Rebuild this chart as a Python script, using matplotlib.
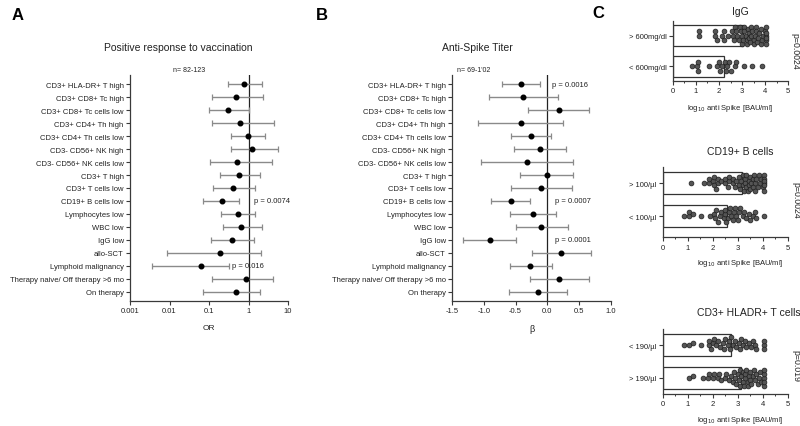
import numpy as np
import matplotlib
matplotlib.use('Agg')
import matplotlib.pyplot as plt

plt.rcParams['font.family'] = ['Liberation Sans', 'DejaVu Sans']

# ---------------- data ----------------
rows = ["CD3+ HLA-DR+ T high", "CD3+ CD8+ Tc high", "CD3+ CD8+ Tc cells low",
        "CD3+ CD4+ Th high", "CD3+ CD4+ Th cells low", "CD3- CD56+ NK high",
        "CD3- CD56+ NK cells low", "CD3+ T high", "CD3+ T cells low",
        "CD19+ B cells low", "Lymphocytes low", "WBC low", "IgG low", "allo-SCT",
        "Lymphoid malignancy", "Therapy naive/ Off therapy >6 mo", "On therapy"]

or_est = [0.79, 0.47, 0.30, 0.61, 0.99, 1.26, 0.52, 0.57, 0.41, 0.215, 0.54, 0.66, 0.39, 0.185, 0.063, 0.86, 0.48]
or_lo = [0.30, 0.12, 0.10, 0.12, 0.37, 0.37, 0.104, 0.185, 0.128, 0.072, 0.20, 0.227, 0.114, 0.0085, 0.0036, 0.12, 0.072]
or_hi = [2.2, 2.3, 1.0, 4.5, 2.66, 5.7, 3.9, 2.0, 1.5, 0.585, 1.5, 2.2, 1.36, 2.08, 0.32, 4.2, 1.96]

beta_est = [-0.42, -0.38, 0.18, -0.42, -0.26, -0.12, -0.32, 0.0, -0.10, -0.58, -0.23, -0.10, -0.91, 0.22, -0.27, 0.19, -0.15]
beta_lo = [-0.72, -0.92, -0.30, -1.09, -0.57, -0.53, -1.05, -0.43, -0.57, -0.88, -0.59, -0.50, -1.33, -0.24, -0.59, -0.28, -0.60]
beta_hi = [-0.11, 0.17, 0.66, 0.25, 0.06, 0.29, 0.41, 0.41, 0.38, -0.27, 0.13, 0.32, -0.49, 0.68, 0.07, 0.66, 0.31]

or_ticks = [0.001, 0.01, 0.1, 1, 10]
or_ticklabels = ["0.001", "0.01", "0.1", "1", "10"]
beta_ticks = [-1.5, -1.0, -0.5, 0.0, 0.5, 1.0]
beta_ticklabels = ["-1.5", "-1.0", "-0.5", "0.0", "0.5", "1.0"]

pA_text = {9: "p = 0.0074", 14: "p = 0.016"}
pB_text = {0: "p = 0.0016", 9: "p = 0.0007", 12: "p = 0.0001"}

# Panel C groups (log10 anti-Spike values)
igg_hi = [1.15, 1.15, 1.85, 1.85, 1.9, 2.15, 2.2, 2.2, 2.4, 2.55, 2.6, 2.65, 2.7, 2.75, 2.8, 2.85,
          2.9, 2.95, 3.0, 3.0, 3.05, 3.1, 3.1, 3.15, 3.2, 3.2, 3.25, 3.3, 3.3, 3.35, 3.4, 3.4, 3.45,
          3.5, 3.5, 3.55, 3.6, 3.6, 3.65, 3.7, 3.75, 3.8, 3.8, 3.85, 3.9, 4.0, 4.05, 4.05, 4.05,
          4.05, 4.05, 4.05]
igg_lo = [0.85, 1.05, 1.1, 1.1, 1.55, 1.9, 2.0, 2.05, 2.15, 2.25, 2.3, 2.35, 2.45, 2.5, 2.7, 2.75,
          3.1, 3.45, 3.85]
b_hi = [1.15, 1.65, 1.85, 1.85, 2.0, 2.05, 2.05, 2.15, 2.2, 2.2, 2.35, 2.5, 2.5, 2.6, 2.65, 2.65,
        2.8, 2.8, 2.9, 2.95, 3.05, 3.05, 3.1, 3.15, 3.2, 3.2, 3.25, 3.3, 3.3, 3.35, 3.35, 3.4, 3.45,
        3.45, 3.5, 3.5, 3.55, 3.6, 3.6, 3.65, 3.7, 3.7, 3.75, 3.8, 3.85, 3.9, 3.95, 4.0, 4.05, 4.05,
        4.05, 4.05, 4.05, 4.05]
b_lo = [0.85, 1.05, 1.05, 1.2, 1.55, 1.9, 2.05, 2.1, 2.15, 2.2, 2.3, 2.35, 2.45, 2.5, 2.5, 2.55,
        2.6, 2.65, 2.7, 2.75, 2.8, 2.85, 2.9, 2.95, 3.0, 3.05, 3.1, 3.2, 3.25, 3.35, 3.45, 3.5, 3.6,
        3.7, 3.75, 4.05]
t_lo = [0.85, 1.05, 1.2, 1.55, 1.85, 1.85, 1.95, 2.0, 2.05, 2.15, 2.2, 2.3, 2.4, 2.45, 2.5, 2.6,
        2.65, 2.7, 2.75, 2.8, 2.9, 2.95, 3.05, 3.1, 3.15, 3.2, 3.3, 3.35, 3.45, 3.55, 3.6, 3.7, 3.75,
        4.05, 4.05, 4.05]
t_hi = [1.05, 1.2, 1.6, 1.8, 1.85, 2.0, 2.05, 2.2, 2.25, 2.35, 2.5, 2.55, 2.65, 2.75, 2.8, 2.85,
        2.9, 2.95, 3.0, 3.05, 3.1, 3.1, 3.15, 3.2, 3.2, 3.25, 3.3, 3.3, 3.35, 3.4, 3.4, 3.45, 3.5,
        3.5, 3.55, 3.6, 3.65, 3.7, 3.75, 3.8, 3.85, 3.9, 3.95, 4.05, 4.05, 4.05, 4.05, 4.05]

c_panels = [
    dict(title="IgG", labels=["> 600mg/dl", "< 600mg/dl"], groups=[igg_hi, igg_lo],
         bars=[3.05, 2.2], p="p=0.0024"),
    dict(title="CD19+ B cells", labels=["> 100/µl", "< 100/µl"], groups=[b_hi, b_lo],
         bars=[3.16, 2.58], p="p=0.0024"),
    dict(title="CD3+ HLADR+ T cells", labels=["< 190/µl", "> 190/µl"], groups=[t_lo, t_hi],
         bars=[2.72, 3.12], p="p=0.019"),
]
c_ticks = [0, 1, 2, 3, 4, 5]

# ---------------- layout ----------------
W, H = 800, 427
fig = plt.figure(figsize=(W / 100, H / 100), dpi=100)

AX_COL = '#3a3a3a'
TXT = '#222222'


def add_ax(l, t, r, b):
    return fig.add_axes([l / W, 1 - b / H, (r - l) / W, (b - t) / H])


def ftext(x, y, s, **kw):
    fig.text(x / W, 1 - y / H, s, **kw)


def style(ax):
    for s in ['top', 'right']:
        ax.spines[s].set_visible(False)
    for s in ['left', 'bottom']:
        ax.spines[s].set_color(AX_COL)
        ax.spines[s].set_linewidth(0.9)
    ax.tick_params(colors=AX_COL, labelcolor=TXT, width=0.8, length=3, labelsize=5.5, pad=1.5)


def forest(ax, est, lo, hi, ref):
    y = np.arange(len(rows))
    est = np.asarray(est); lo = np.asarray(lo); hi = np.asarray(hi)
    ax.errorbar(est, y, xerr=[est - lo, hi - est], fmt='none', ecolor='#8a8a8a',
                elinewidth=1.0, capsize=2.2, capthick=0.9, zorder=2)
    ax.plot(est, y, 'o', color='black', ms=3.3, zorder=3)
    ax.axvline(ref, color='#222222', lw=0.9, zorder=1)
    ax.set_yticks(y)
    ax.set_yticklabels(rows, fontsize=6)
    ax.set_ylim(16.7, -0.7)
    style(ax)


# Panel A
axA = add_ax(130, 76, 288, 302)
axA.set_xscale('log')
axA.set_xlim(0.001, 10)
forest(axA, or_est, or_lo, or_hi, 1)
axA.set_xticks(or_ticks)
axA.set_xticklabels(or_ticklabels)
axA.minorticks_off()
axA.set_xlabel("OR", fontsize=6, color=TXT, labelpad=7)
for i, s in pA_text.items():
    axA.text(1.4 if i == 9 else 0.38, i, s, fontsize=5.5, color=TXT, va='center', ha='left')

# Panel B
axB = add_ax(452, 76, 611, 302)
axB.set_xlim(-1.5, 1.0)
forest(axB, beta_est, beta_lo, beta_hi, 0)
axB.set_xticks(beta_ticks)
axB.set_xticklabels(beta_ticklabels)
axB.set_xlabel("β", fontsize=6.5, color=TXT, labelpad=7)
for i, s in pB_text.items():
    axB.text(0.07 if i == 0 else 0.12, i, s, fontsize=5.5, color=TXT, va='center', ha='left')

ftext(178, 48, "Positive response to vaccination", fontsize=7.5, ha='center', va='center', color=TXT)
ftext(477, 48, "Anti-Spike Titer", fontsize=7.5, ha='center', va='center', color=TXT)
ftext(189, 71, "n= 82-123", fontsize=5, ha='center', va='center', color=TXT)
ftext(474, 71, "n= 69-1'02", fontsize=5, ha='center', va='center', color=TXT)

ftext(18, 15, "A", fontsize=12, fontweight='bold', ha='center', va='center')
ftext(322, 15, "B", fontsize=12, fontweight='bold', ha='center', va='center')
ftext(598, 14, "C", fontsize=12, fontweight='bold', ha='center', va='center')


def swarm(ax, vals, yc, d_px=4.2, max_px=10.0):
    vals = np.asarray(vals, dtype=float)
    pts = ax.transData.transform(np.column_stack([vals, np.full(len(vals), yc)]))
    xs = pts[:, 0]
    ppu = abs(ax.transData.transform((0, 1))[1] - ax.transData.transform((0, 0))[1])
    order = np.argsort(xs, kind='stable')
    placed = []
    offs = np.zeros(len(vals))
    step = d_px / 2.0
    cands = [0.0]
    k = 1
    while k * step <= max_px:
        cands += [k * step, -k * step]
        k += 1
    for i in order:
        best = None
        bestscore = -1
        bestc = 0.0
        for c in cands:
            if placed:
                dmin = min(np.hypot(xs[i] - px, c - py) for px, py in placed)
            else:
                dmin = 1e9
            if dmin >= d_px:
                best = c
                break
            if dmin > bestscore:
                bestscore = dmin
                bestc = c
        if best is None:
            best = bestc
        placed.append((xs[i], best))
        offs[i] = best
    return yc + offs / ppu


c_boxes = [(672.7, 21.7, 788.3, 81.7, (-0.46, 1.48)),
           (662.7, 168.3, 787.7, 238.3, (-0.645, 1.476)),
           (662.7, 330, 787.7, 395, (-0.485, 1.485))]
c_title_pos = [(740.5, 12), (740, 152), (748.5, 313)]
c_xlabel_pos = [(730.7, 108.5), (740, 263.5), (740, 421)]
c_p_pos = [(795, 51), (796, 200), (796, 366)]

for panel, box, tp, xp, pp in zip(c_panels, c_boxes, c_title_pos, c_xlabel_pos, c_p_pos):
    l, t, r, b, yl = box
    ax = add_ax(l, t, r, b)
    ax.set_xlim(0, 5)
    ax.set_ylim(*yl)
    ypos = [1, 0]
    ax.barh(ypos, panel['bars'], height=0.68, facecolor='white', edgecolor='#333333',
            lw=0.9, zorder=1)
    for yc, g in zip(ypos, panel['groups']):
        yy = swarm(ax, g, yc)
        ax.scatter(g, yy, s=12, facecolor='#555555', edgecolor='#1e1e1e', lw=0.5, zorder=3)
    ax.set_yticks(ypos)
    ax.set_yticklabels(panel['labels'], fontsize=5.5)
    ax.set_xticks(c_ticks)
    ax.set_xticks(np.arange(0.5, 5, 1.0), minor=True)
    style(ax)
    ax.tick_params(axis='x', which='minor', length=1.5, color=AX_COL, width=0.7)
    ftext(tp[0], tp[1], panel['title'], fontsize=7.5, ha='center', va='center', color=TXT)
    ftext(xp[0], xp[1], "log$_{10}$ anti Spike [BAU/ml]", fontsize=5.5, ha='center',
          va='center', color=TXT)
    ftext(pp[0], pp[1], panel['p'], fontsize=6.3, rotation=-90, ha='center', va='center',
          color=TXT)

fig.savefig('out.png', dpi=100)
